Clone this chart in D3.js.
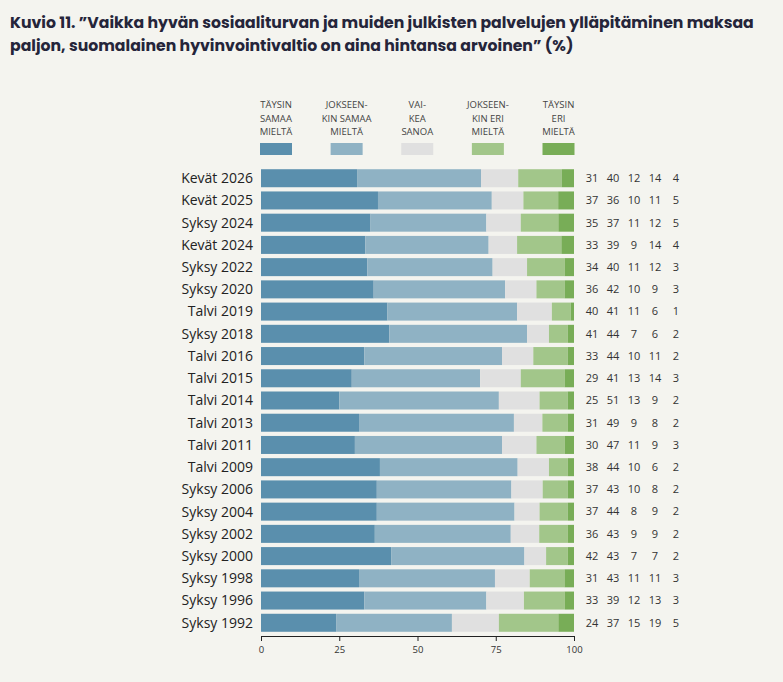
<!DOCTYPE html>
<html>
<head>
<meta charset="utf-8">
<script src="https://cdn.jsdelivr.net/npm/d3@7"></script>
<style>
  body { margin: 0; background: #f4f4ef; }
  svg { display: block; }
</style>
</head>
<body>
<div id="chart"></div>
<script>
const periods = ["Kevät 2026", "Kevät 2025", "Syksy 2024", "Kevät 2024", "Syksy 2022", "Syksy 2020",
  "Talvi 2019", "Syksy 2018", "Talvi 2016", "Talvi 2015", "Talvi 2014", "Talvi 2013", "Talvi 2011",
  "Talvi 2009", "Syksy 2006", "Syksy 2004", "Syksy 2002", "Syksy 2000", "Syksy 1998", "Syksy 1996", "Syksy 1992"];

const taysinSamaa   = [31, 37, 35, 33, 34, 36, 40, 41, 33, 29, 25, 31, 30, 38, 37, 37, 36, 42, 31, 33, 24];
const jokseenSamaa  = [40, 36, 37, 39, 40, 42, 41, 44, 44, 41, 51, 49, 47, 44, 43, 44, 43, 43, 43, 39, 37];
const vaikeaSanoa   = [12, 10, 11, 9, 11, 10, 11, 7, 10, 13, 13, 9, 11, 10, 10, 8, 9, 7, 11, 12, 15];
const jokseenEri    = [14, 11, 12, 14, 12, 9, 6, 6, 11, 14, 9, 8, 9, 6, 8, 9, 9, 7, 11, 13, 19];
const taysinEri     = [4, 5, 5, 4, 3, 3, 1, 2, 2, 3, 2, 2, 3, 2, 2, 2, 2, 2, 3, 3, 5];

const keys = ["ts", "js", "vs", "je", "te"];
const legendLabels = [
  ["TÄYSIN", "SAMAA", "MIELTÄ"],
  ["JOKSEEN-", "KIN SAMAA", "MIELTÄ"],
  ["VAI-", "KEA", "SANOA"],
  ["JOKSEEN-", "KIN ERI", "MIELTÄ"],
  ["TÄYSIN", "ERI", "MIELTÄ"]
];
const ticks = [0, 25, 50, 75, 100];
const colors = ["#5a8fad", "#8fb2c4", "#e0e0e0", "#a2c68a", "#78ad57"];

const rows = periods.map((p, i) => ({
  period: p,
  ts: taysinSamaa[i], js: jokseenSamaa[i], vs: vaikeaSanoa[i], je: jokseenEri[i], te: taysinEri[i]
}));

const width = 783, height = 682;
const x = d3.scaleLinear().domain([0, 1]).range([261, 574]);
const xAxisScale = d3.scaleLinear().domain([0, 100]).range([261, 574]);
const y = d3.scaleBand().domain(periods).range([167, 634]).paddingInner(0.19).paddingOuter(0.1);
const color = d3.scaleOrdinal().domain(keys).range(colors);

const stack = d3.stack().keys(keys).offset(d3.stackOffsetExpand);
const series = stack(rows);

const svg = d3.select("#chart").append("svg")
  .attr("width", width)
  .attr("height", height)
  .attr("viewBox", [0, 0, width, height]);

// title
svg.append("g")
  .attr("font-family", "Poppins, 'Open Sans', sans-serif")
  .attr("font-weight", "bold")
  .attr("font-size", 15.7)
  .attr("fill", "#25253a")
  .selectAll("text")
  .data(["Kuvio 11. ”Vaikka hyvän sosiaaliturvan ja muiden julkisten palvelujen ylläpitäminen maksaa",
         "paljon, suomalainen hyvinvointivaltio on aina hintansa arvoinen” (%)"])
  .join("text")
  .attr("x", 10)
  .attr("y", (d, i) => 28 + i * 23)
  .text(d => d);

// legend
const legendX = d3.scalePoint().domain(keys).range([276, 558.5]);
const legend = svg.append("g")
  .attr("font-family", "'Open Sans', 'Noto Sans', sans-serif")
  .attr("font-size", 9.5)
  .attr("fill", "#444")
  .attr("text-anchor", "middle");

keys.forEach((k, i) => {
  const g = legend.append("g").attr("transform", `translate(${legendX(k)},0)`);
  g.selectAll("text")
    .data(legendLabels[i])
    .join("text")
    .attr("y", (d, j) => 108 + j * 13.5)
    .text(d => d);
  g.append("rect")
    .attr("x", -16)
    .attr("y", 143)
    .attr("width", 32)
    .attr("height", 12)
    .attr("fill", color(k));
});

// bars
svg.append("g")
  .selectAll("g")
  .data(series)
  .join("g")
  .attr("fill", d => color(d.key))
  .selectAll("rect")
  .data(d => d)
  .join("rect")
  .attr("x", d => x(d[0]))
  .attr("y", d => y(d.data.period))
  .attr("width", d => x(d[1]) - x(d[0]))
  .attr("height", y.bandwidth());

// category labels
svg.append("g")
  .attr("font-family", "'Open Sans', 'Noto Sans', sans-serif")
  .attr("font-size", 14)
  .attr("fill", "#222")
  .attr("text-anchor", "end")
  .selectAll("text")
  .data(periods)
  .join("text")
  .attr("x", 253)
  .attr("y", d => y(d) + y.bandwidth() / 2)
  .attr("dy", "0.35em")
  .text(d => d);

// value columns
const colX = d3.scalePoint().domain(keys).range([592, 676]);
const vals = svg.append("g")
  .attr("font-family", "'Open Sans', 'Noto Sans', sans-serif")
  .attr("font-size", 11)
  .attr("fill", "#333")
  .attr("text-anchor", "middle");
keys.forEach(k => {
  vals.append("g")
    .selectAll("text")
    .data(rows)
    .join("text")
    .attr("x", colX(k))
    .attr("y", d => y(d.period) + y.bandwidth() / 2)
    .attr("dy", "0.35em")
    .text(d => d[k]);
});

// x axis
const axis = svg.append("g")
  .attr("transform", "translate(0,636)")
  .call(d3.axisBottom(xAxisScale).tickValues(ticks).tickSize(5).tickSizeOuter(0).tickPadding(5));
axis.select(".domain").attr("stroke", "#222").attr("stroke-width", 1.2);
axis.selectAll(".tick line").attr("stroke", "#222");
axis.selectAll(".tick text")
  .attr("font-family", "'Open Sans', 'Noto Sans', sans-serif")
  .attr("font-size", 9.5)
  .attr("fill", "#333");
</script>
</body>
</html>
